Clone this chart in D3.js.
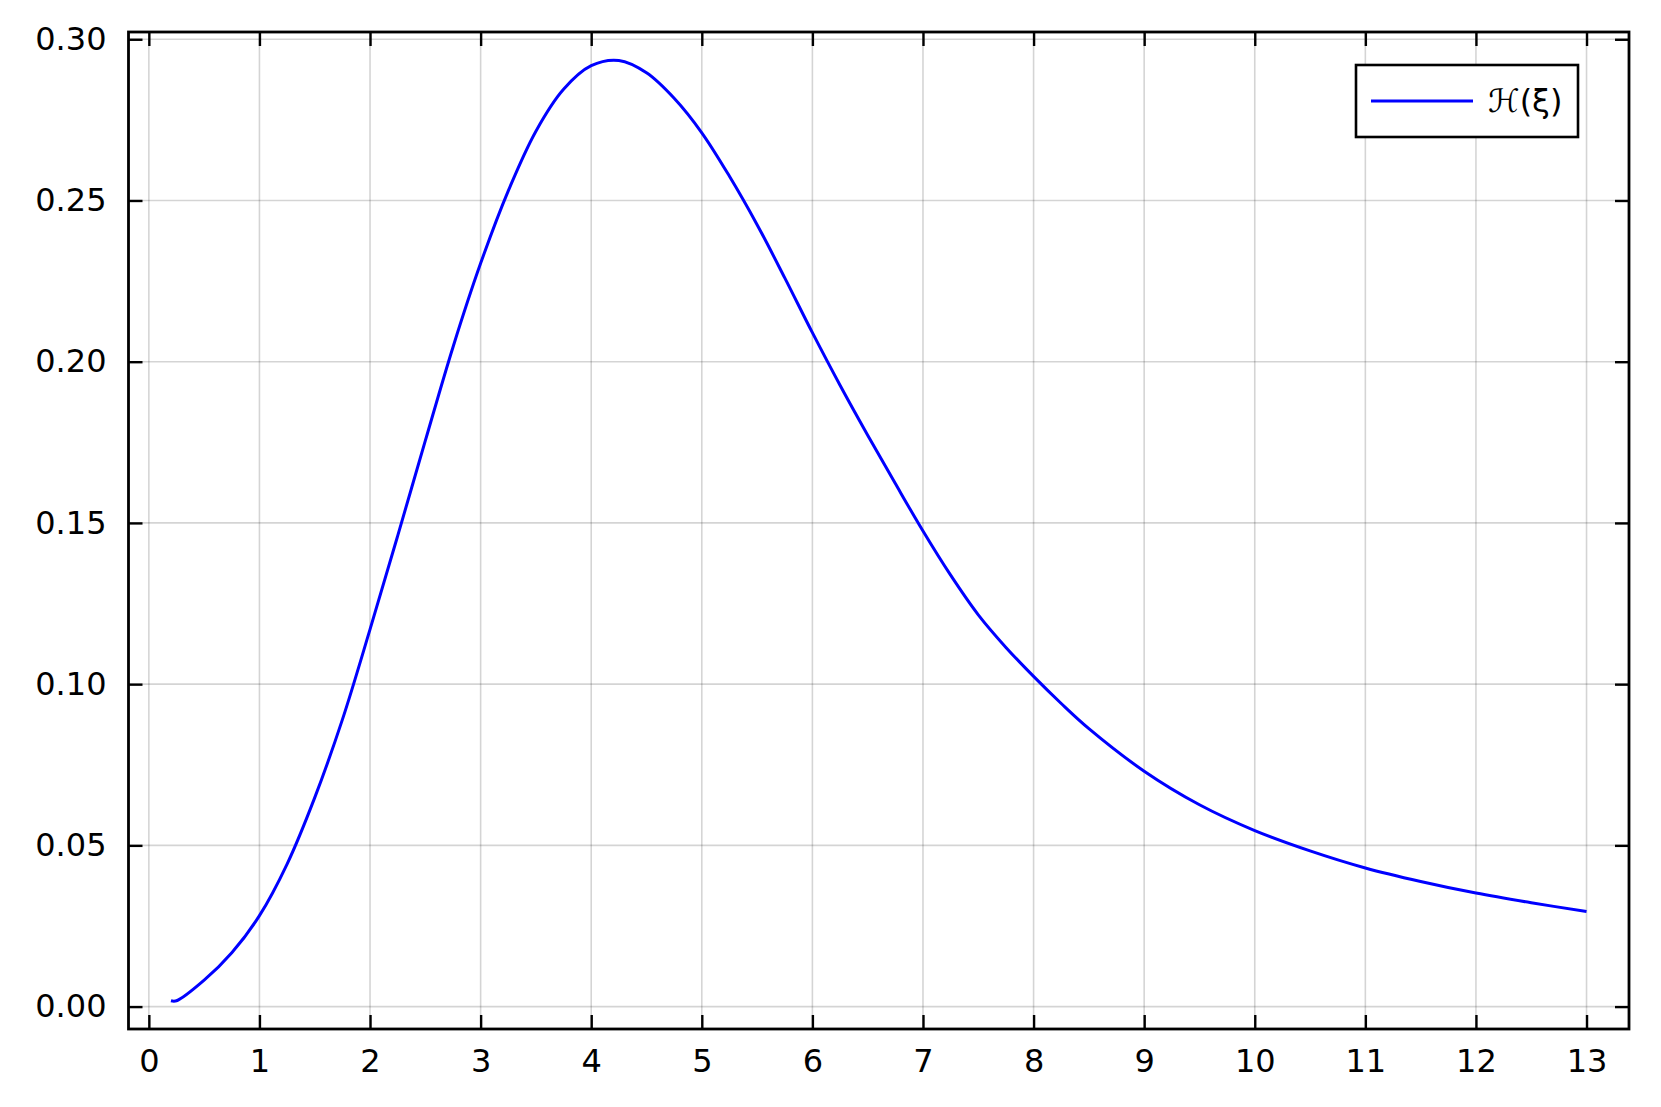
<!DOCTYPE html>
<html>
<head>
<meta charset="utf-8">
<script src="https://cdn.jsdelivr.net/npm/d3@7"></script>
<style>
  body { margin: 0; background: #fff; }
  svg text { font-family: "DejaVu Sans", sans-serif; }
</style>
</head>
<body>
<div id="chart"></div>
<script>
// values
var xs = [0.2, 0.25, 0.5, 0.75, 1, 1.25, 1.5, 1.75, 2, 2.25, 2.5, 2.75, 3, 3.25, 3.5, 3.75, 4, 4.25,
          4.5, 4.75, 5, 5.25, 5.5, 5.75, 6, 6.25, 6.5, 6.75, 7, 7.25, 7.5, 7.75, 8, 8.25,
          8.5, 9, 9.5, 10, 10.5, 11, 11.5, 12, 12.5, 13];
var ys = [0.0018, 0.0018, 0.0082, 0.0167, 0.0282, 0.0442, 0.0648, 0.0890, 0.1170, 0.1460, 0.1755, 0.2045,
          0.2305, 0.2530, 0.2715, 0.2845, 0.2918, 0.2934,
          0.2896, 0.2817, 0.2710, 0.2575, 0.2425, 0.2260, 0.2090, 0.1927, 0.1772, 0.1622, 0.1475, 0.1338,
          0.1215, 0.1114, 0.1024, 0.0940,
          0.0862, 0.0730, 0.0626, 0.0546, 0.0483, 0.0430, 0.0388, 0.0352, 0.0322, 0.0295];
var xTicks = [0, 1, 2, 3, 4, 5, 6, 7, 8, 9, 10, 11, 12, 13];
var yTicks = [0, 0.05, 0.10, 0.15, 0.20, 0.25, 0.30];
var seriesName = "ℋ(ξ)";

var width = 1661, height = 1107;
var margin = {top: 32, right: 32, bottom: 78, left: 128.5};
var tickLen = 14;

var data = xs.map(function(x, i){ return {x: x, y: ys[i]}; });

var svg = d3.select("#chart")
    .append("svg")
    .attr("width", width)
    .attr("height", height);

// padding like Julia Plots: 3% of data range on each side
var xPad = (13 - 0.2) * 0.03;
var yPad = (0.2935 - 0.0018) * 0.03;

var xScale = d3.scaleLinear()
    .domain([0.2 - xPad, 13 + xPad])
    .range([margin.left, width - margin.right]);

var yScale = d3.scaleLinear()
    .domain([0.0018 - yPad, 0.2935 + yPad])
    .range([height - margin.bottom, margin.top]);

var x0 = margin.left, x1 = width - margin.right;
var y0 = height - margin.bottom, y1 = margin.top;

// grid
svg.append("g")
    .selectAll("line")
    .data(xTicks)
    .enter()
    .append("line")
    .attr("x1", function(d){ return xScale(d); })
    .attr("x2", function(d){ return xScale(d); })
    .attr("y1", y0).attr("y2", y1)
    .attr("stroke", "#000").attr("stroke-opacity", 0.17).attr("stroke-width", 1.6);

svg.append("g")
    .selectAll("line")
    .data(yTicks)
    .enter()
    .append("line")
    .attr("y1", function(d){ return yScale(d); })
    .attr("y2", function(d){ return yScale(d); })
    .attr("x1", x0).attr("x2", x1)
    .attr("stroke", "#000").attr("stroke-opacity", 0.17).attr("stroke-width", 1.6);

// axes: ticks inside, mirrored on top and right
var xAxisB = svg.append("g")
    .attr("transform", `translate(0, ${y0})`)
    .call(d3.axisBottom(xScale).tickValues(xTicks).tickSize(-tickLen).tickPadding(20).tickFormat(d3.format("d")));
var xAxisT = svg.append("g")
    .attr("transform", `translate(0, ${y1})`)
    .call(d3.axisTop(xScale).tickValues(xTicks).tickSize(-tickLen).tickFormat(""));
var yAxisL = svg.append("g")
    .attr("transform", `translate(${x0}, 0)`)
    .call(d3.axisLeft(yScale).tickValues(yTicks).tickSize(-tickLen).tickPadding(22).tickFormat(d3.format(".2f")));
var yAxisR = svg.append("g")
    .attr("transform", `translate(${x1}, 0)`)
    .call(d3.axisRight(yScale).tickValues(yTicks).tickSize(-tickLen).tickFormat(""));

svg.selectAll(".domain").remove();
svg.selectAll(".tick line").attr("stroke", "#000").attr("stroke-width", 2.4);
svg.selectAll(".tick text").attr("fill", "#000").style("font-size", "32px");

// frame
svg.append("rect")
    .attr("x", x0).attr("y", y1)
    .attr("width", x1 - x0).attr("height", y0 - y1)
    .attr("fill", "none").attr("stroke", "#000").attr("stroke-width", 2.8);

// curve
var line = d3.line()
    .x(function(d){ return xScale(d.x); })
    .y(function(d){ return yScale(d.y); })
    .curve(d3.curveCatmullRom.alpha(0.5));

svg.append("path")
    .datum(data)
    .attr("d", line)
    .attr("fill", "none")
    .attr("stroke", "#0000ff")
    .attr("stroke-width", 3);

// legend
var legend = svg.append("g").attr("transform", "translate(1356, 65)");
legend.append("rect")
    .attr("width", 222).attr("height", 72)
    .attr("fill", "#fff").attr("stroke", "#000").attr("stroke-width", 2.6);
legend.append("line")
    .attr("x1", 15).attr("x2", 117).attr("y1", 36).attr("y2", 36)
    .attr("stroke", "#0000ff").attr("stroke-width", 3);
legend.append("text")
    .attr("x", 132).attr("y", 36).attr("dy", "0.35em")
    .style("font-size", "32px")
    .text(seriesName);
</script>
</body>
</html>
